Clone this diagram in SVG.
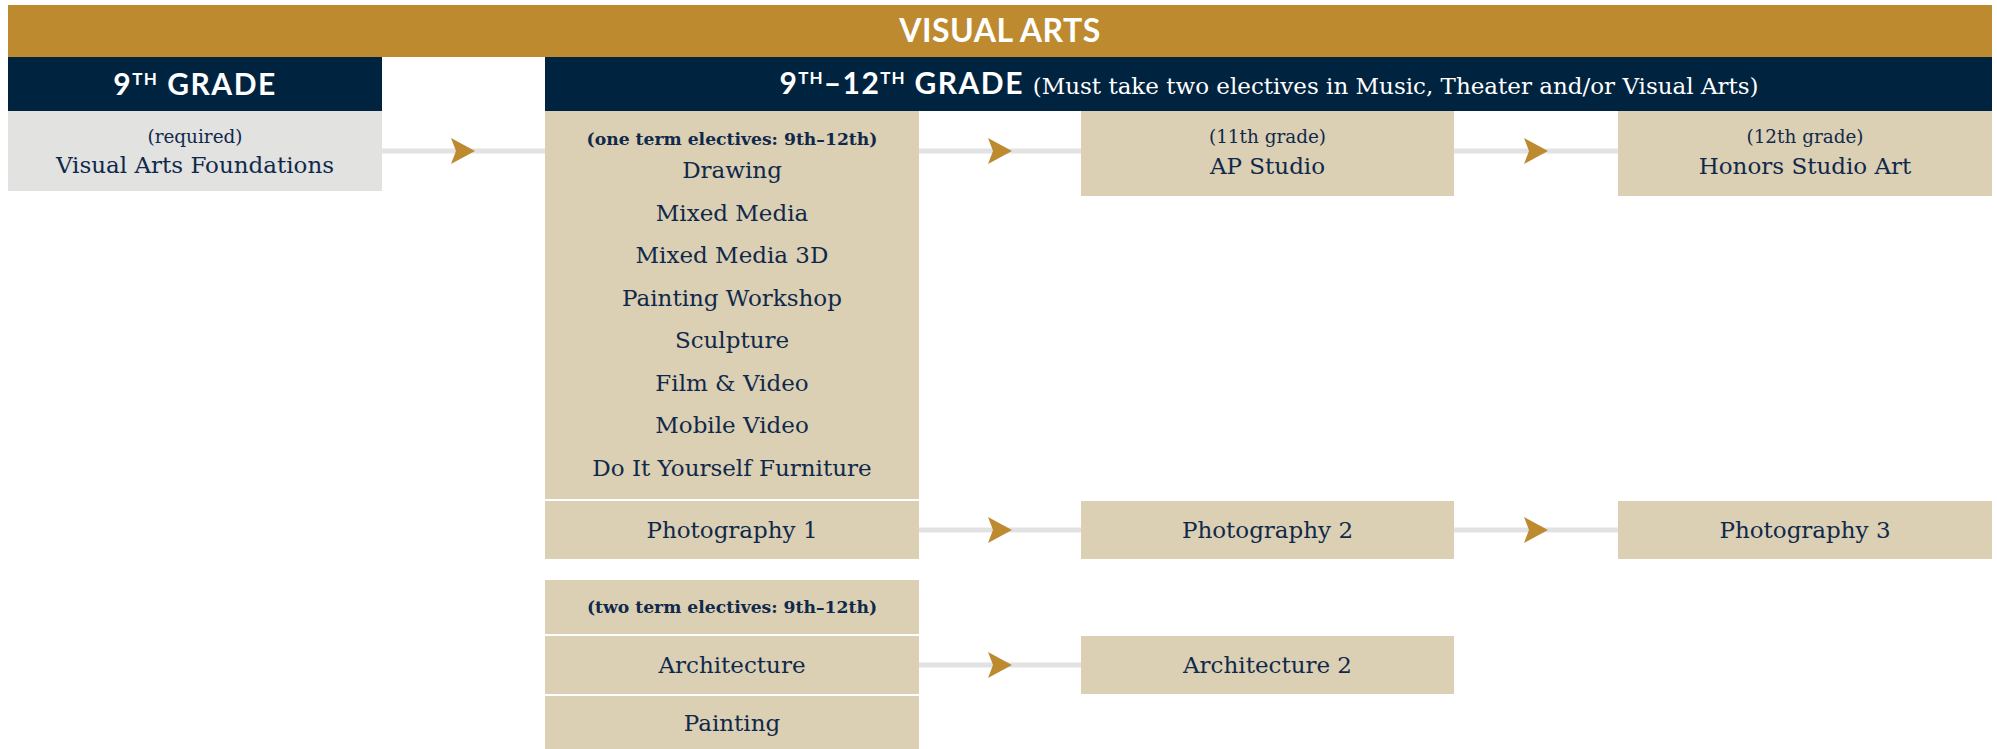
<svg xmlns="http://www.w3.org/2000/svg" width="1997" height="749" viewBox="0 0 1997 749">
<style>
.gold{fill:#BD8A30}
.navy{fill:#002340}
.beige{fill:#DBCFB4}
.grey{fill:#E2E2E0}
.hd{font-family:Lato,"Open Sans","DejaVu Sans",sans-serif;font-weight:700;fill:#fff}
.t{font-family:"DejaVu Serif",Georgia,serif;font-size:23px;fill:#10294A;text-anchor:middle}
.s{font-family:"DejaVu Serif",Georgia,serif;font-size:18.4px;fill:#10294A;text-anchor:middle}
.b{font-family:"DejaVu Serif",Georgia,serif;font-size:17.2px;font-weight:700;fill:#10294A;text-anchor:middle}
.ln{stroke:#E2E2E2;stroke-width:5;fill:none}
.ah{fill:#BD8A30}
</style>
<defs>
<path id="arr" d="M-12,-13 L12,0 L-12,13 L-7,0 Z"/>
</defs>

<g id="title">
<rect class="gold" x="8" y="5" width="1984" height="52"/>
<text class="hd" x="1000" y="42" font-size="32" text-anchor="middle" letter-spacing="0.5">VISUAL ARTS</text>
</g>

<g id="header-9th">
<rect class="navy" x="8" y="57" width="374" height="54"/>
<text class="hd" x="195" y="95" font-size="30" text-anchor="middle" letter-spacing="1.5">9<tspan font-size="17" dy="-10">TH</tspan><tspan dy="10"> GRADE</tspan></text>
</g>

<g id="header-9-12">
<rect class="navy" x="545" y="57" width="1447" height="54"/>
<text x="1269" y="94" text-anchor="middle"><tspan class="hd" font-size="30" letter-spacing="1.5">9</tspan><tspan class="hd" font-size="17" dy="-10" letter-spacing="1">TH</tspan><tspan class="hd" font-size="30" dy="10" letter-spacing="1.5">–12</tspan><tspan class="hd" font-size="17" dy="-10" letter-spacing="1">TH</tspan><tspan class="hd" font-size="30" dy="10" letter-spacing="1.5"> GRADE </tspan><tspan font-family="DejaVu Serif,Georgia,serif" font-size="23" fill="#fff">(Must take two electives in Music, Theater and/or Visual Arts)</tspan></text>
</g>

<g id="connectors">
<line class="ln" x1="382" y1="151" x2="545" y2="151"/>
<line class="ln" x1="919" y1="151" x2="1081" y2="151"/>
<line class="ln" x1="1454" y1="151" x2="1618" y2="151"/>
<line class="ln" x1="919" y1="530" x2="1081" y2="530"/>
<line class="ln" x1="1454" y1="530" x2="1618" y2="530"/>
<line class="ln" x1="919" y1="665" x2="1081" y2="665"/>
<use href="#arr" class="ah" x="463" y="151"/>
<use href="#arr" class="ah" x="1000" y="151"/>
<use href="#arr" class="ah" x="1536" y="151"/>
<use href="#arr" class="ah" x="1000" y="530"/>
<use href="#arr" class="ah" x="1536" y="530"/>
<use href="#arr" class="ah" x="1000" y="665"/>
</g>

<g id="foundations">
<rect class="grey" x="8" y="111" width="374" height="80"/>
<text class="s" x="195" y="143">(required)</text>
<text class="t" x="195" y="173">Visual Arts Foundations</text>
</g>

<g id="one-term">
<rect class="beige" x="545" y="111" width="374" height="388"/>
<text class="b" x="732" y="145">(one term electives: 9th–12th)</text>
<text class="t" x="732" y="178">Drawing</text>
<text class="t" x="732" y="220.5">Mixed Media</text>
<text class="t" x="732" y="263">Mixed Media 3D</text>
<text class="t" x="732" y="305.5">Painting Workshop</text>
<text class="t" x="732" y="348">Sculpture</text>
<text class="t" x="732" y="390.5">Film &amp; Video</text>
<text class="t" x="732" y="433">Mobile Video</text>
<text class="t" x="732" y="475.5">Do It Yourself Furniture</text>
</g>

<g id="ap-studio">
<rect class="beige" x="1081" y="111" width="373" height="85"/>
<text class="s" x="1267.5" y="142.7">(11th grade)</text>
<text class="t" x="1267.5" y="174">AP Studio</text>
</g>

<g id="honors">
<rect class="beige" x="1618" y="111" width="374" height="85"/>
<text class="s" x="1805" y="142.7">(12th grade)</text>
<text class="t" x="1805" y="174">Honors Studio Art</text>
</g>

<g id="photo1">
<rect class="beige" x="545" y="501" width="374" height="58"/>
<text class="t" x="732" y="537.5">Photography 1</text>
</g>
<g id="photo2">
<rect class="beige" x="1081" y="501" width="373" height="58"/>
<text class="t" x="1267.5" y="537.5">Photography 2</text>
</g>
<g id="photo3">
<rect class="beige" x="1618" y="501" width="374" height="58"/>
<text class="t" x="1805" y="537.5">Photography 3</text>
</g>

<g id="two-term">
<rect class="beige" x="545" y="580" width="374" height="54"/>
<text class="b" x="732" y="612.5">(two term electives: 9th–12th)</text>
</g>
<g id="architecture">
<rect class="beige" x="545" y="636" width="374" height="58"/>
<text class="t" x="732" y="672.5">Architecture</text>
</g>
<g id="architecture2">
<rect class="beige" x="1081" y="636" width="373" height="58"/>
<text class="t" x="1267.5" y="672.5">Architecture 2</text>
</g>
<g id="painting">
<rect class="beige" x="545" y="696" width="374" height="53"/>
<text class="t" x="732" y="731">Painting</text>
</g>
</svg>
